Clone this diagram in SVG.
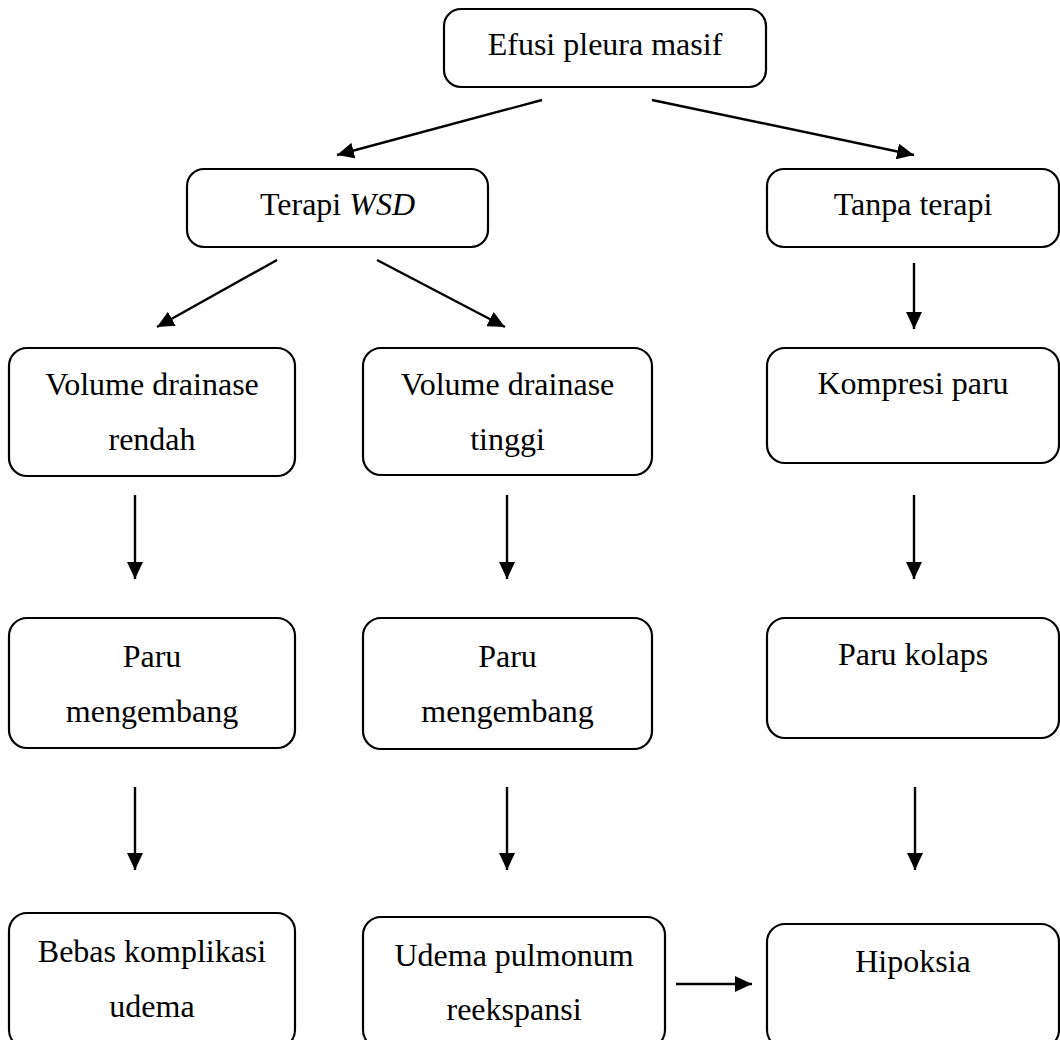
<svg xmlns="http://www.w3.org/2000/svg" width="1060" height="1040" viewBox="0 0 1060 1040">
<style>
.box{fill:#fff;stroke:#000;stroke-width:2.2}
.t{font-family:"Liberation Serif","Times New Roman",serif;font-size:32px;fill:#000;text-anchor:middle}
.c{stroke:#000;stroke-width:2.4;fill:none;marker-end:url(#ah)}
</style>
<defs>
<marker id="ah" markerUnits="userSpaceOnUse" markerWidth="18" markerHeight="16" viewBox="0 0 18 16" refX="17" refY="8" orient="auto">
<path d="M0,0 L17,8 L0,16 Z" fill="#000"/>
</marker>
</defs>
<rect width="1060" height="1040" fill="#fff"/>
<g id="connectors">
<line class="c" x1="542" y1="100" x2="337" y2="155"/>
<line class="c" x1="652" y1="100" x2="914" y2="155"/>
<line class="c" x1="277" y1="260" x2="157" y2="327"/>
<line class="c" x1="377" y1="260" x2="505" y2="327"/>
<line class="c" x1="914" y1="263" x2="914" y2="329"/>
<line class="c" x1="135" y1="495" x2="135" y2="579"/>
<line class="c" x1="507" y1="495" x2="507" y2="579"/>
<line class="c" x1="914" y1="495" x2="914" y2="579"/>
<line class="c" x1="135" y1="787" x2="135" y2="870"/>
<line class="c" x1="507" y1="787" x2="507" y2="870"/>
<line class="c" x1="915" y1="787" x2="915" y2="870"/>
<line class="c" x1="676" y1="984" x2="752" y2="984"/>
</g>
<g id="n-efusi"><rect class="box" x="444" y="9" width="322" height="78" rx="17"/><text class="t" x="605" y="55">Efusi pleura masif</text></g>
<g id="n-terapi"><rect class="box" x="187" y="169" width="301" height="78" rx="17"/><text class="t" x="337.5" y="215">Terapi <tspan font-style="italic">WSD</tspan></text></g>
<g id="n-tanpa"><rect class="box" x="767" y="169" width="292" height="78" rx="17"/><text class="t" x="913" y="215">Tanpa terapi</text></g>
<g id="n-vol-rendah"><rect class="box" x="9" y="348" width="286" height="128" rx="18"/><text class="t" x="152" y="395">Volume drainase</text><text class="t" x="152" y="450">rendah</text></g>
<g id="n-vol-tinggi"><rect class="box" x="363" y="348" width="289" height="127" rx="18"/><text class="t" x="507.5" y="395">Volume drainase</text><text class="t" x="507.5" y="450">tinggi</text></g>
<g id="n-kompresi"><rect class="box" x="767" y="348" width="292" height="115" rx="18"/><text class="t" x="913" y="394">Kompresi paru</text></g>
<g id="n-paru1"><rect class="box" x="9" y="618" width="286" height="130" rx="18"/><text class="t" x="152" y="667">Paru</text><text class="t" x="152" y="722">mengembang</text></g>
<g id="n-paru2"><rect class="box" x="363" y="618" width="289" height="131" rx="18"/><text class="t" x="507.5" y="667">Paru</text><text class="t" x="507.5" y="722">mengembang</text></g>
<g id="n-kolaps"><rect class="box" x="767" y="618" width="292" height="120" rx="18"/><text class="t" x="913" y="665">Paru kolaps</text></g>
<g id="n-bebas"><rect class="box" x="9" y="913" width="286" height="135" rx="18"/><text class="t" x="152" y="962">Bebas komplikasi</text><text class="t" x="152" y="1017">udema</text></g>
<g id="n-udema"><rect class="box" x="363" y="917" width="302" height="131" rx="18"/><text class="t" x="514" y="966">Udema pulmonum</text><text class="t" x="514" y="1020">reekspansi</text></g>
<g id="n-hipoksia"><rect class="box" x="767" y="924" width="292" height="124" rx="18"/><text class="t" x="913" y="972">Hipoksia</text></g>
</svg>
